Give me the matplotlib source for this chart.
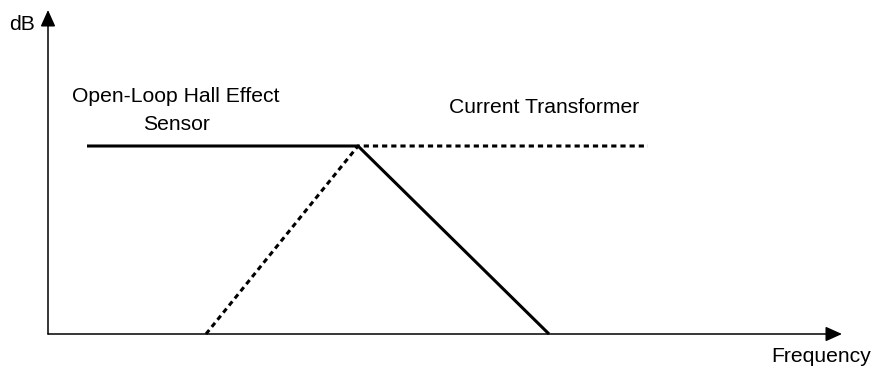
import matplotlib
matplotlib.use("Agg")
import matplotlib.pyplot as plt

plt.rcParams['font.family'] = ['Liberation Sans', 'DejaVu Sans']

# Data (frequency, dB) in arbitrary units; origin at axes crossing
hall_freq = [39, 310, 501]
hall_db = [188, 188, 0]
ct_freq = [158, 310, 600]
ct_db = [0, 188, 188]
x_axis_end = 794
y_axis_end = 324

fig = plt.figure(figsize=(8.74, 3.67), dpi=100)
ax = fig.add_axes([0, 0, 1, 1])
ax.set_xlim(-48, 826)
ax.set_ylim(-33, 334)
ax.axis('off')

arrow = dict(arrowstyle='-|>,head_length=1.0,head_width=0.45', color='black', lw=1.1,
             shrinkA=0, shrinkB=0)
ax.annotate('', xy=(x_axis_end, 0), xytext=(0, 0), arrowprops=arrow)
ax.annotate('', xy=(0, y_axis_end), xytext=(0, 0), arrowprops=arrow)

ax.plot(hall_freq, hall_db, color='black', lw=2.2, solid_capstyle='butt')
ax.plot(ct_freq, ct_db, color='black', lw=2.2, linestyle=(0, (1.7, 1.3)),
        dash_capstyle='butt')

fs = 15.2
ax.text(-13, 304, 'dB', ha='right', va='baseline', fontsize=fs)
ax.text(773, -28, 'Frequency', ha='center', va='baseline', fontsize=fs)
ax.text(128, 232, 'Open-Loop Hall Effect', ha='center', va='baseline', fontsize=fs)
ax.text(128, 204, 'Sensor', ha='center', va='baseline', fontsize=fs)
ax.text(496, 221, 'Current Transformer', ha='center', va='baseline', fontsize=fs)

fig.savefig('out.png', dpi=100)
